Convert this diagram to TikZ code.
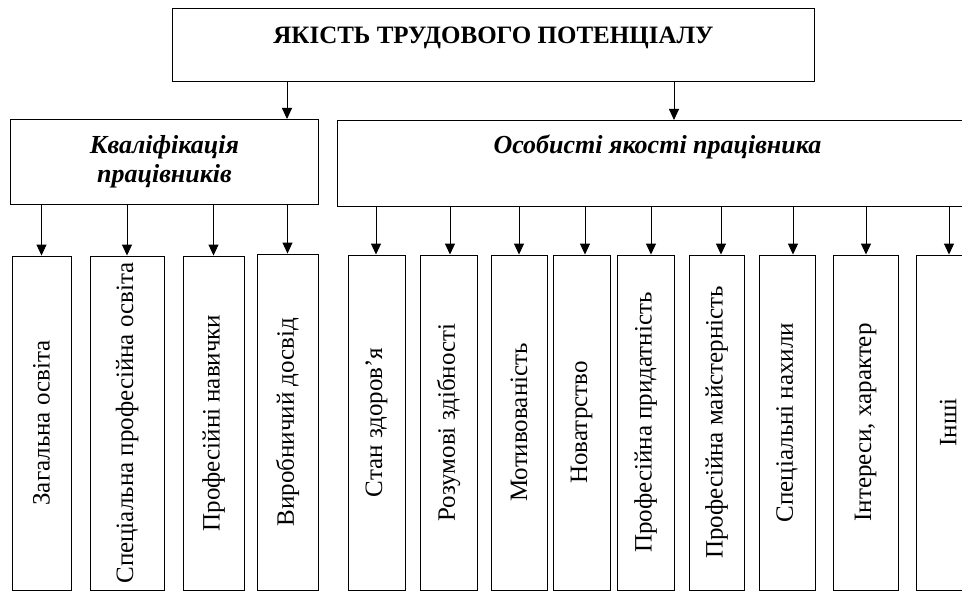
\documentclass[tikz,border=0pt]{standalone}
\usepackage{fontspec}
\setmainfont{Liberation Serif}
\usetikzlibrary{arrows.meta}
\begin{document}
\begin{tikzpicture}[x=1pt,y=-1pt,
  box/.style={draw, line width=0.9pt, inner sep=0pt},
  arr/.style={line width=0.9pt, -{Triangle[width=10pt,length=11pt]}},
  vbox/.style={box, rotate=90, minimum height=#1, minimum width=334pt,
    font=\fontsize{25}{28}\selectfont},
  vbox/.default=57pt,
  headfont/.style={font=\bfseries\itshape\fontsize{26}{29}\selectfont}
]
\useasboundingbox (0,0) rectangle (962,591);

% top
\node[box, anchor=north west, minimum width=642pt, text height=35pt, text depth=38pt,
  font=\bfseries\fontsize{25}{28}\selectfont] (top) at (172,8) {ЯКІСТЬ ТРУДОВОГО ПОТЕНЦІАЛУ};

% second level
\node[box, anchor=north west, minimum width=308pt, minimum height=85pt, align=center,
  headfont] (kval) at (10,119) {Кваліфікація\\працівників};
\node[box, anchor=north west, minimum width=640pt, text height=33pt, text depth=53pt,
  headfont] (osob) at (337,120) {Особисті якості працівника};

\coordinate (a1) at (287,0);
\coordinate (a2) at (674,0);
\draw[arr] (top.south -| a1) -- (kval.north -| a1);
\draw[arr] (top.south -| a2) -- (osob.north -| a2);

% third level
\node[vbox=59pt] (b1) at (41.5,423) {Загальна освіта};
\node[vbox=74pt] (b2) at (127,423) {Спеціальна професійна освіта};
\node[vbox=61pt] (b3) at (213.5,423) {Професійні навички};
\node[vbox=61pt, minimum width=336pt] (b4) at (287.5,422) {Виробничий досвід};
\node[vbox=57pt, minimum width=335pt] (b5) at (376.5,422.5) {Стан здоров’я};
\node[vbox=57pt, minimum width=335pt] (b6) at (448.5,422.5) {Розумові здібності};
\node[vbox=56pt, minimum width=335pt] (b7) at (519,422.5) {Мотивованість};
\node[vbox=57pt, minimum width=335pt] (b8) at (581.5,422.5) {Новатрство};
\node[vbox=57pt, minimum width=335pt] (b9) at (645.5,422.5) {Професійна придатність};
\node[vbox=55pt, minimum width=335pt] (b10) at (716.5,422.5) {Професійна майстерність};
\node[vbox=56pt, minimum width=335pt] (b11) at (787,422.5) {Спеціальні нахили};
\node[vbox=65pt, minimum width=335pt] (b12) at (865.5,422.5) {Інтереси, характер};
\node[vbox=64pt, minimum width=335pt] (b13) at (948,422.5) {Інші};

\foreach \b in {b1,b2,b3,b4}
  \draw[arr] (kval.south -| \b.east) -- (\b.east);

\coordinate (c5) at (376,0);
\coordinate (c6) at (450,0);
\coordinate (c7) at (519,0);
\coordinate (c8) at (585,0);
\coordinate (c9) at (651,0);
\coordinate (c10) at (721,0);
\coordinate (c11) at (793,0);
\coordinate (c12) at (866,0);
\coordinate (c13) at (949,0);
\foreach \i in {5,...,13}
  \draw[arr] (osob.south -| c\i) -- (b\i.east -| c\i);
\end{tikzpicture}
\end{document}
